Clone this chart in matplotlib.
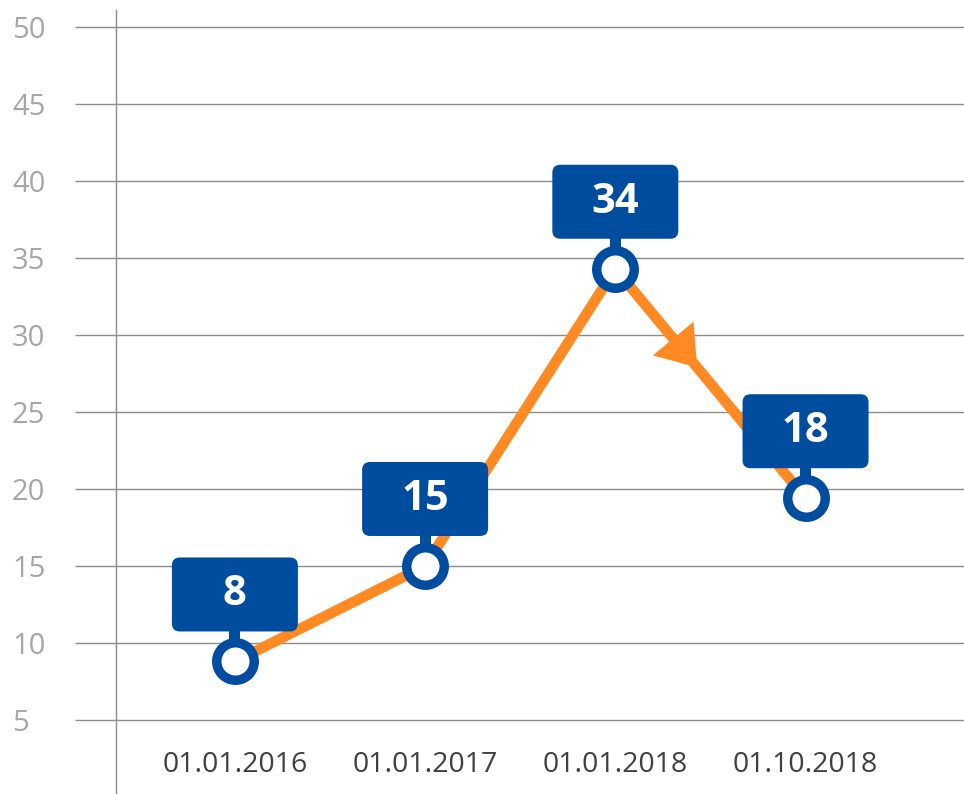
import matplotlib
matplotlib.use("Agg")
import matplotlib.pyplot as plt
import matplotlib.transforms as mtransforms
from matplotlib.patches import FancyBboxPatch, Rectangle, FancyArrowPatch

# Daten
dates = ["01.01.2016", "01.01.2017", "01.01.2018", "01.10.2018"]
values = [8.8, 15.0, 34.3, 19.4]          # Lage der Punkte im Bild
value_labels = ["8", "15", "34", "18"]    # Beschriftung in den Kästen
y_ticks = [5, 10, 15, 20, 25, 30, 35, 40, 45, 50]

orange = "#FF8A24"
blue = "#004C9E"
grid_col = "#8C8C8C"

plt.rcParams["font.family"] = ["Open Sans", "DejaVu Sans"]

fig = plt.figure(figsize=(9.64, 7.94), dpi=100)
ax = fig.add_axes([116 / 964, 0, 1 - 116 / 964, 784 / 794])

x = list(range(len(dates)))
ax.set_xlim(-0.625, 3.833)
ax.set_ylim(0.195, 51.10)

# Achsen und Gitter
for side in ["top", "right", "bottom"]:
    ax.spines[side].set_visible(False)
ax.spines["left"].set_color(grid_col)
ax.spines["left"].set_linewidth(1)
ax.set_yticks(y_ticks)
ax.yaxis.grid(True, color=grid_col, lw=1)
ax.tick_params(axis="y", length=29.5, width=1, color=grid_col,
               labelcolor="#A6A6A6", labelsize=21, pad=45.4)
for lbl in ax.get_yticklabels():
    lbl.set_ha("left")
ax.set_xticks(x)
ax.set_xticklabels(dates)
ax.tick_params(axis="x", length=0, labelcolor="#404040", labelsize=20.5, pad=-31)

# Linie
ax.plot(x, values, color=orange, lw=7.6, solid_capstyle="butt", zorder=3)

# Pfeilspitze auf dem Abschnitt 34 -> 18
def along(t):
    return (x[2] + t * (x[3] - x[2]), values[2] + t * (values[3] - values[2]))

arrow = FancyArrowPatch(along(0.25), along(0.43),
                        arrowstyle="-|>,head_length=27,head_width=19",
                        mutation_scale=1, color=orange, lw=0,
                        shrinkA=0, shrinkB=0, zorder=3)
ax.add_patch(arrow)

# Beschriftungskästen
for xi, yi, txt in zip(x, values, value_labels):
    trans = fig.dpi_scale_trans + mtransforms.ScaledTranslation(xi, yi, ax.transData)
    stem = Rectangle((-0.055, 0), 0.11, 0.33, transform=trans,
                     facecolor=blue, edgecolor="none", zorder=4)
    ax.add_patch(stem)
    box = FancyBboxPatch((-0.59, 0.34), 1.18, 0.66,
                         boxstyle="round,pad=0.04,rounding_size=0.08",
                         transform=trans, facecolor=blue, edgecolor="none", zorder=4)
    ax.add_patch(box)
    ax.text(0, 0.665, txt, transform=trans, ha="center", va="center",
            color="white", fontsize=30, fontweight="bold", zorder=5)

ax.plot(x, values, linestyle="none", marker="o", ms=27, mew=6.8,
        mfc="white", mec=blue, zorder=6, clip_on=False)

fig.savefig("out.png", dpi=100)
